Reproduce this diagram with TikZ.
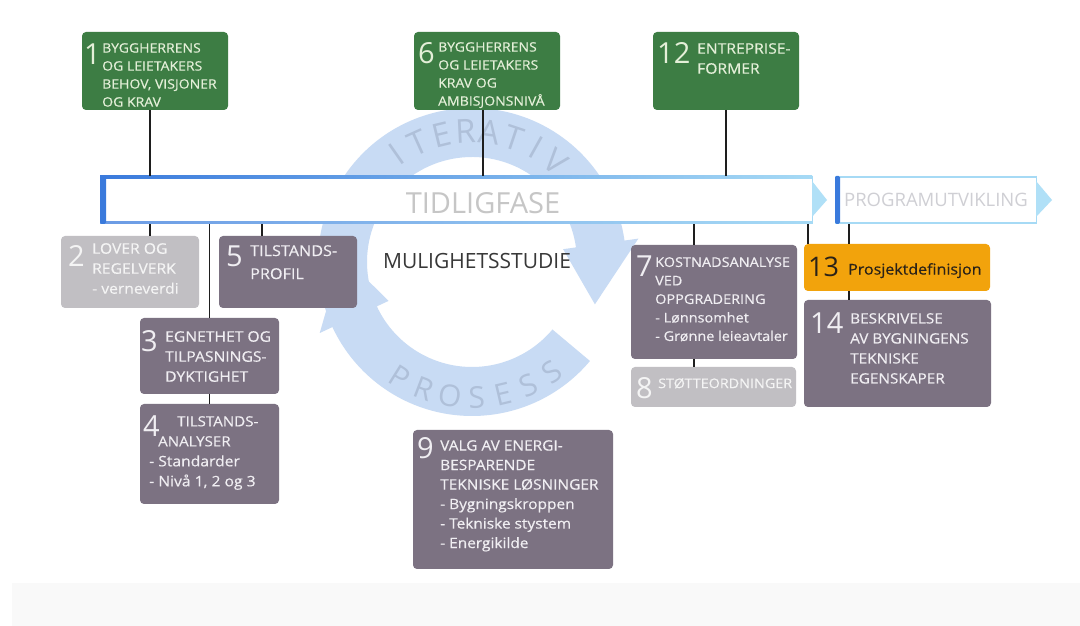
\documentclass[tikz,border=0pt]{standalone}
\usepackage{fontspec}
\setmainfont{Open Sans}
\newfontfamily\boxfont{Open Sans}[FakeStretch=1.08, FakeBold=0.4]
% a large step number hung to the left of a text line
\newcommand\bignum[4]{\llap{\raisebox{-#3pt}[0pt][0pt]{\normalfont\fontsize{#4}{#4}\selectfont #1}\hspace{#2pt}}}
\definecolor{gfill}{HTML}{3D7D44}
\definecolor{gtext}{HTML}{E4EFD8}
\definecolor{pfill}{HTML}{7C7282}
\definecolor{ptext}{HTML}{F0EEF2}
\definecolor{lfill}{HTML}{C1BFC3}
\definecolor{ltext}{HTML}{F4F4F4}
\definecolor{ofill}{HTML}{F2A30C}
\definecolor{otext}{HTML}{2A2218}
\definecolor{linec}{HTML}{1E1E1E}
\definecolor{ringc}{HTML}{C8DBF4}
\definecolor{ringt}{HTML}{AFC0D9}
\definecolor{barblue}{HTML}{3A7ADC}
\definecolor{barlight}{HTML}{A6DAF5}
\definecolor{tipc}{HTML}{B0E0F7}
\definecolor{phase}{HTML}{C6C6C6}
\definecolor{phase2}{HTML}{CFCFD4}
\definecolor{band}{HTML}{F9F9F9}
\begin{document}
\begin{tikzpicture}[x=1pt,y=1pt,
  box/.style={anchor=north west, rounded corners=4pt, inner sep=0pt, outer sep=0pt},
  gbox/.style={box, fill=gfill},
  pbox/.style={box, fill=pfill},
  lbox/.style={box, fill=lfill},
  obox/.style={box, fill=ofill},
  hd/.style={anchor=north west, inner sep=0pt, align=left},
  conn/.style={draw=linec, line width=1.5pt},
  barbody/.style={anchor=west, fill=white, inner sep=0pt, outer sep=0pt, minimum height=48pt},
  ringtxt/.style={text=ringt, inner sep=0pt, font=\fontsize{33}{33}\selectfont},
]
\useasboundingbox (0,0) rectangle (1080,626);
\fill[white] (0,0) rectangle (1080,626);
\fill[band] (12,0) rectangle (1080,43);

% circular iteration arrows behind everything
\begin{scope}[shift={(472,364)}]
  \fill[ringc] (200:154) arc[start angle=200, end angle=8, radius=154]
     -- (8:168) -- (-19:130) -- (8:92) -- (8:105)
     arc[start angle=8, end angle=200, radius=105] -- cycle;
  \fill[ringc] (-40:154) arc[start angle=-40, end angle=-155, radius=154]
     -- (-155:168) -- (-183:130) -- (-155:92) -- (-155:105)
     arc[start angle=-155, end angle=-40, radius=105] -- cycle;
  \foreach \ch [count=\i from 0] in {I,T,E,R,A,T,I,V}
    \node[ringtxt, rotate={35-\i*10.7}] (it\i) at ({125-\i*10.7}:131) {\ch};
  \foreach \ch [count=\i from 0] in {P,R,O,S,E,S,S}
    \node[ringtxt, font=\fontsize{30}{30}\selectfont, rotate={328+\i*11.33}] (pr\i) at ({238+\i*11.33}:136) {\ch};
\end{scope}

% phase bars
\node[barbody, minimum width=712pt] (tf) at (100,426) {};
\shade[left color=barblue, right color=barlight] (tf.north west) rectangle ([yshift=-2.5pt]tf.north east);
\shade[left color=barblue!75, right color=barlight] ([yshift=2pt]tf.south west) rectangle (tf.south east);
\fill[barblue, rounded corners=1.5pt] (tf.north west) rectangle ([xshift=6pt]tf.south west);
\draw[barlight, line width=1pt] (tf.north east) -- (tf.south east);
\fill[tipc] ([yshift=-5pt]tf.north east) -- ([xshift=15pt]tf.east) -- ([yshift=7pt]tf.south east) -- cycle;
\node[text=phase, inner sep=0pt, font=\fontsize{29}{29}\selectfont] (tft) at (483,423) {TIDLIGFASE};

\node[barbody, minimum width=201pt] (pu) at (835,426) {};
\fill[barlight] (pu.north west) rectangle ([yshift=-2pt]pu.north east);
\fill[barlight] ([yshift=1.5pt]pu.south west) rectangle (pu.south east);
\fill[barblue, rounded corners=1.5pt] (pu.north west) rectangle ([xshift=5pt]pu.south west);
\draw[barlight, line width=1pt] (pu.north east) -- (pu.south east);
\fill[tipc] ([yshift=-5pt]pu.north east) -- ([xshift=16pt]pu.east) -- ([yshift=7pt]pu.south east) -- cycle;
\node[text=phase2, inner sep=0pt, font=\fontsize{18.5}{18.5}\selectfont] (put) at (936,426) {PROGRAMUTVIKLING};

\node[text=black!78, inner sep=0pt, font=\fontsize{21}{21}\selectfont] (ms) at (477,364.5) {MULIGHETSSTUDIE};

% boxes
\node[gbox, minimum width=146pt, minimum height=78pt] (b1) at (82,594) {};
\node[gbox, minimum width=146pt, minimum height=78pt] (b6) at (414,594) {};
\node[gbox, minimum width=146pt, minimum height=78pt] (b12) at (653,594) {};
\node[lbox, minimum width=138pt, minimum height=72pt] (b2) at (61,390) {};
\node[pbox, minimum width=138pt, minimum height=72pt] (b5) at (219,390) {};
\node[pbox, minimum width=139pt, minimum height=76pt] (b3) at (140,308) {};
\node[pbox, minimum width=139pt, minimum height=100pt] (b4) at (140,222) {};
\node[pbox, minimum width=166pt, minimum height=114pt] (b7) at (631,381) {};
\node[lbox, minimum width=165pt, minimum height=40pt] (b8) at (631,259) {};
\node[obox, minimum width=186pt, minimum height=47pt] (b13) at (804,382) {};
\node[pbox, minimum width=187pt, minimum height=107pt] (b14) at (804,326) {};
\node[pbox, minimum width=200pt, minimum height=139pt] (b9) at (413,196) {};

% connectors
\draw[conn] ([xshift=-5pt]b1.south) -- ([xshift=-5pt]b1.south |- tf.north);
\draw[conn] ([xshift=-4pt]b6.south) -- ([xshift=-4pt]b6.south |- tf.north);
\draw[conn] (b12.south) -- (b12.south |- tf.north);
\draw[conn] ([xshift=20pt]b2.north) -- ([xshift=20pt]b2.north |- tf.south);
\draw[conn] (b3.north) -- (b3.north |- tf.south);
\draw[conn] ([xshift=-26pt]b5.north) -- ([xshift=-26pt]b5.north |- tf.south);
\draw[conn] (b3.south) -- (b4.north);
\draw[conn] ([xshift=-20pt]b7.north) -- ([xshift=-20pt]b7.north |- tf.south);
\draw[conn] ([xshift=-20pt]b7.south) -- ([xshift=-20pt]b7.south |- b8.north);
\draw[conn] ([xshift=4pt]b13.north west) -- ([xshift=4pt]b13.north west |- tf.south);
\draw[conn] ([xshift=45pt]b13.north west) -- ([xshift=45pt]b13.north west |- pu.south);
\draw[conn] ([xshift=45pt]b13.south west) -- ([xshift=45pt]b13.south west |- b14.north);

% box texts, each with its step number
\node[hd, text=gtext, font=\boxfont\fontsize{13}{18}\selectfont] (t1) at ([xshift=20pt,yshift=-11pt]b1.north west)
  {\bignum{1}{1.4}{11.4}{29}BYGGHERRENS\\OG LEIETAKERS\\BEHOV, VISJONER\\OG KRAV};
\node[hd, text=gtext, font=\boxfont\fontsize{13}{18}\selectfont] (t6) at ([xshift=24pt,yshift=-10pt]b6.north west)
  {\bignum{6}{3.4}{11.4}{29}BYGGHERRENS\\OG LEIETAKERS\\KRAV OG\\AMBISJONSNIVÅ};
\node[hd, text=gtext, font=\boxfont\fontsize{14.5}{20}\selectfont] (t12) at ([xshift=44pt,yshift=-11pt]b12.north west)
  {\bignum{12}{6.8}{9.4}{29}ENTREPRISE-\\FORMER};

\node[hd, text=ltext, font=\boxfont\fontsize{14.5}{20}\selectfont] (t2) at ([xshift=31pt,yshift=-7pt]b2.north west)
  {\bignum{2}{7.4}{12.3}{29}LOVER OG\\REGELVERK\\- verneverdi};
\node[hd, text=ptext, font=\boxfont\fontsize{15}{23}\selectfont] (t5) at ([xshift=31pt,yshift=-9pt]b5.north west)
  {\bignum{5}{7.4}{10}{29}TILSTANDS-\\PROFIL};
\node[hd, text=ptext, font=\boxfont\fontsize{14.5}{20}\selectfont] (t3) at ([xshift=25pt,yshift=-13pt]b3.north west)
  {\bignum{3}{7.4}{9.4}{29}EGNETHET OG\\TILPASNINGS-\\DYKTIGHET};
\node[hd, text=ptext, font=\boxfont\fontsize{14}{20}\selectfont] (t4) at ([xshift=9pt,yshift=-12pt]b4.north west)
  {\hspace*{28pt}\bignum{4}{17.4}{9.7}{29}TILSTANDS-\\\hspace*{9pt}ANALYSER\\{\fontsize{14.5}{20}\selectfont - Standarder}\\{\fontsize{14.5}{20}\selectfont - Nivå 1, 2 og 3}};

\node[hd, text=ptext, font=\boxfont\fontsize{13.4}{18.5}\selectfont] (t7) at ([xshift=24pt,yshift=-12pt]b7.north west)
  {\bignum{7}{2.4}{9.1}{29}KOSTNADSANALYSE\\VED\\OPPGRADERING\\- Lønnsomhet\\- Grønne leieavtaler};
\node[hd, text=ltext, font=\boxfont\fontsize{13.3}{17}\selectfont] (t8) at ([xshift=27pt,yshift=-11pt]b8.north west)
  {\bignum{8}{5.4}{10.2}{29}STØTTEORDNINGER};
\node[hd, text=otext, font=\boxfont\fontsize{14.8}{17}\selectfont] (t13) at ([xshift=44pt,yshift=-19pt]b13.north west)
  {\bignum{13}{9.1}{2.3}{27}Prosjektdefinisjon};
\node[hd, text=ptext, font=\boxfont\fontsize{14.2}{20}\selectfont] (t14) at ([xshift=46pt,yshift=-13pt]b14.north west)
  {\bignum{14}{6.8}{9.8}{29}BESKRIVELSE\\AV BYGNINGENS\\TEKNISKE\\EGENSKAPER};
\node[hd, text=ptext, font=\boxfont\fontsize{14.3}{19.5}\selectfont] (t9) at ([xshift=27pt,yshift=-10pt]b9.north west)
  {\bignum{9}{6.4}{7.6}{29}VALG AV ENERGI-\\BESPARENDE\\TEKNISKE LØSNINGER\\- Bygningskroppen\\- Tekniske stystem\\- Energikilde};
\end{tikzpicture}
\end{document}
